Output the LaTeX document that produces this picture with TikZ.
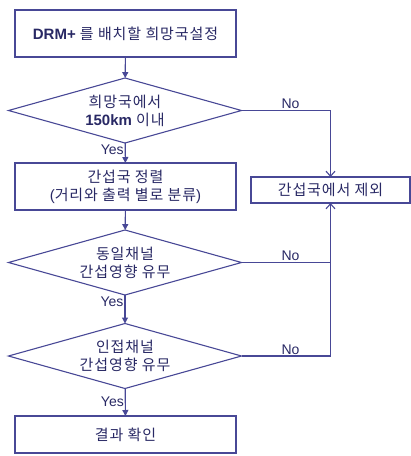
\documentclass[tikz,border=0pt]{standalone}
\usepackage{fontspec}
\setmainfont{Liberation Sans}
\newfontfamily\kr[LetterSpace=6]{Noto Sans CJK KR}
\usetikzlibrary{arrows.meta, positioning, shapes.geometric}

\definecolor{flowline}{RGB}{72,72,150}
\definecolor{flowtext}{RGB}{40,40,100}

\tikzset{
    stepbox/.style={draw=flowline, line width=1.2pt, minimum width=221pt, minimum height=47pt, inner sep=0pt, outer sep=0pt, align=center, text=flowtext, font=\fontsize{15}{18}\selectfont},
    testbox/.style={draw=flowline, line width=1.1pt, diamond, aspect=3.6, minimum width=233pt, minimum height=65pt, inner sep=0pt, outer sep=0pt, align=center, text=flowtext, font=\fontsize{15}{18}\selectfont},
    flow/.style={draw=flowline, line width=1.1pt, -{Triangle[length=6pt,width=6pt]}},
    back/.style={draw=flowline, line width=1.1pt, -{Straight Barb[length=5pt,width=9pt]}},
    answer/.style={text=flowtext, font=\fontsize{14}{16}\selectfont, inner sep=1pt}
}

\begin{document}
\begin{tikzpicture}[x=1pt, y=-1pt]
    \useasboundingbox (0,0) rectangle (411,456);
    \node[stepbox] (setup) at (125.5,33.5) {\textbf{DRM+} {\kr 를 배치할 희망국설정}};
    \node[testbox] (range) at (125,110.5) {{\kr 희망국에서}\\\textbf{150km} {\kr 이내}};
    \node[stepbox] (sort) at (125.5,186.5) {{\kr 간섭국 정렬}\\({\kr 거리와 출력 별로 분류})};
    \node[stepbox, minimum width=159pt, minimum height=26pt] (excl) at (330.5,190) {\kr 간섭국에서 제외};
    \node[testbox] (cochan) at (125,262.5) {{\kr 동일채널}\\{\kr 간섭영향 유무}};
    \node[testbox] (adjch) at (125,356) {{\kr 인접채널}\\{\kr 간섭영향 유무}};
    \node[stepbox, minimum height=37pt] (result) at (125.5,434.5) {\kr 결과 확인};

    \draw[flow] (setup) -- (range);
    \draw[flow] (range) -- node[answer, anchor=north east, pos=0] {Yes} (sort);
    \draw[flow] (sort) -- (cochan);
    \draw[flow] (cochan) -- node[answer, anchor=north east, pos=0] {Yes} (adjch);
    \draw[flow] (adjch) -- node[answer, anchor=south east, pos=0.7] {Yes} (result);

    \draw[back] (range.east) -- node[answer, above, pos=0.55] {No} (excl.north |- range.east) -- (excl.north);
    \draw[draw=flowline, line width=1.1pt] (cochan.east) -- node[answer, above, pos=0.55] {No} (excl.south |- cochan.east);
    \draw[back] (adjch.east) -- node[answer, above, pos=0.55] {No} (excl.south |- adjch.east) -- (excl.south);
\end{tikzpicture}
\end{document}
